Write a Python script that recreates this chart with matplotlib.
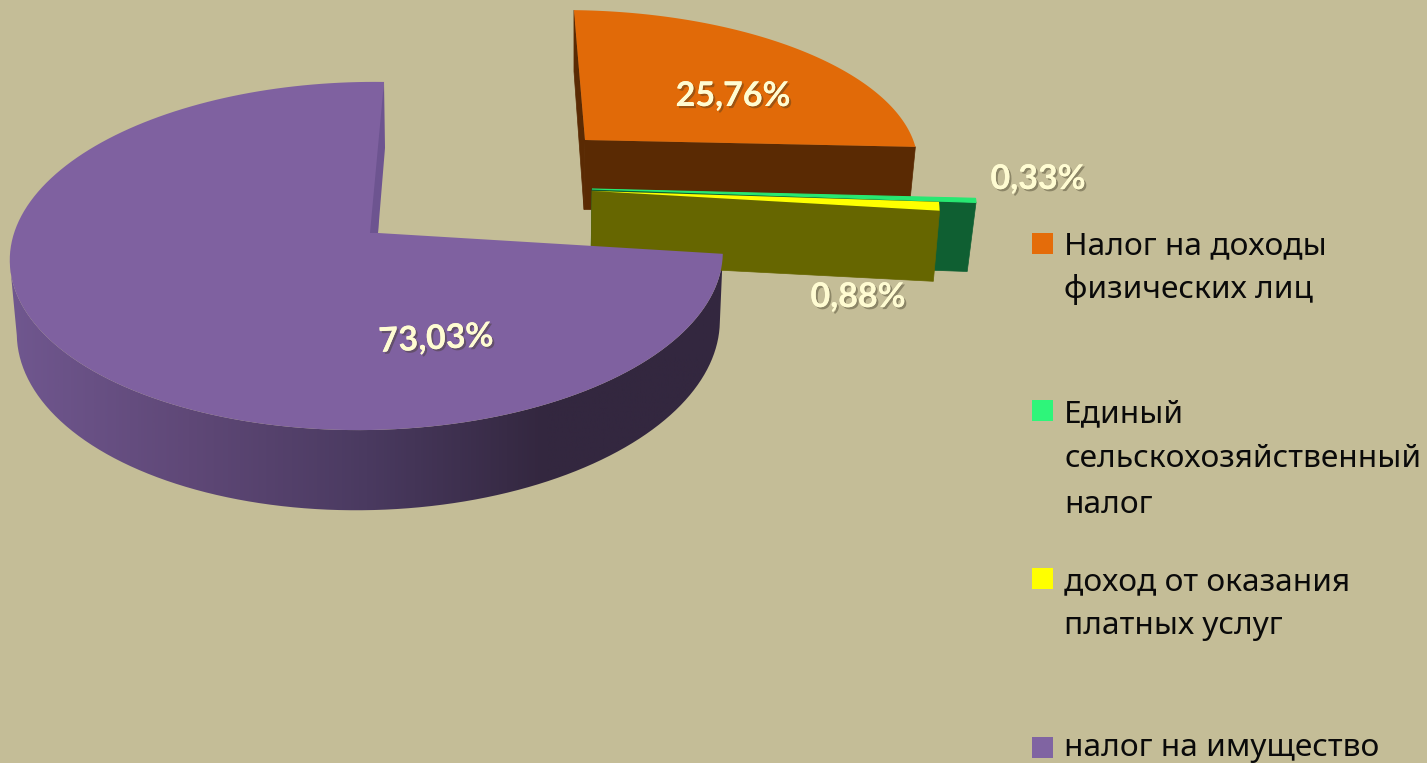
import numpy as np
import matplotlib.pyplot as plt
import matplotlib.patheffects as pe
from matplotlib.colors import LinearSegmentedColormap
from matplotlib.patches import Polygon, Rectangle

# данные диаграммы
categories = [['Налог на доходы', 'физических лиц'],
              ['Единый', 'сельскохозяйственный', 'налог'],
              ['доход от оказания', 'платных услуг'],
              ['налог на имущество']]
values = [25.76, 0.33, 0.88, 73.03]
top_colors = ['#E16A08', '#27E872', '#FFFF00', '#7F61A0']
legend_colors = ['#E46C0A', '#2EF57A', '#FFFF00', '#8064A2']
wall_colors = ['#5A2A03', '#0F5F32', '#666600', '#33273F']
bg = '#C4BD97'

bounds = np.concatenate([[0], np.cumsum(values)]) / np.sum(values) * 2 * np.pi

K = 0.132   # перспектива по глубине
M = 0.03    # перспектива по ширине
D0 = 69.5   # высота пирога


def proj(th, cx, cy, a, b, s=0.0):
    X, Y = np.sin(th), np.cos(th)
    w = 1 + K * Y + M * X
    return cx + (b * X + s * Y) / w, cy - a * Y / w, w


def down(x, y, w, cx, sx):
    return x - (x - cx) * sx, y + D0 / w


def sector(i, cx, cy, a, b, s=0.0):
    th = np.linspace(bounds[i], bounds[i + 1], 160)
    x, y, w = proj(th, cx, cy, a, b, s)
    return th, x, y, w


fig = plt.figure(figsize=(14.27, 7.63), dpi=100, facecolor=bg)
ax = fig.add_axes([0, 0, 1, 1])

# оранжевый сектор
cx, cy, a, b, s, sx = 585, 140, 147, 338, -12.5, 0.02
th, x, y, w = sector(0, cx, cy, a, b, s)
xb, yb = down(x, y, w, 575, sx)
ax.add_patch(Polygon([(x[0], y[0]), (cx, cy), (cx - 1, cy + D0), (xb[0], yb[0])], fc=wall_colors[0], ec=wall_colors[0], lw=0.5))
ax.add_patch(Polygon([(cx, cy), (x[-1], y[-1]), (xb[-1], yb[-1]), (cx - 1, cy + D0)], fc=wall_colors[0], ec=wall_colors[0], lw=0.5))
ax.add_patch(Polygon(np.r_[[[cx, cy]], np.c_[x, y]], fc=top_colors[0], ec='none'))

# зеленый сектор
cx, cy, a, b, sx = 592, 189, 200, 393, 0.023
th, x, y, w = sector(1, cx, cy, a, b)
xb, yb = down(x, y, w, cx, sx)
ax.add_patch(Polygon([(cx, cy), (x[-1], y[-1]), (xb[-1], yb[-1] + 1), (cx - 1, cy + D0)], fc=wall_colors[1], ec=wall_colors[1], lw=0.5))
ax.add_patch(Polygon(np.r_[[[cx, cy]], np.c_[x, y]], fc=top_colors[1], ec=top_colors[1], lw=0.8))

# желтый сектор
cx, cy, a, b, sx = 592, 191, 162, 355, 0.018
th, x, y, w = sector(2, cx, cy, a, b)
xb, yb = down(x, y, w, cx, sx)
ax.add_patch(Polygon([(cx, cy), (x[-1], y[-1]), (xb[-1], yb[-1] + 2), (cx - 1, cy + D0 + 3)], fc=wall_colors[2], ec=wall_colors[2], lw=0.5))
ax.add_patch(Polygon(np.r_[[[cx, cy]], np.c_[x, y]], fc=top_colors[2], ec='none'))

# фиолетовый сектор: стенка с градиентом
cx, cy, a, b, s, sx = 378, 233, 171, 353, 6.8, 0.014
th, x, y, w = sector(3, cx, cy, a, b, s)
xb, yb = down(x, y, w, 510, sx)
n = np.argmin(x) + 1   # стенка до самой левой точки
wall = Polygon(np.r_[np.c_[x[:n], y[:n]], np.c_[xb[:n], yb[:n]][::-1]], fc='none', ec='none')
ax.add_patch(wall)
cmap = LinearSegmentedColormap.from_list('wall', ['#70578F', '#5F4877', '#4A3A60', '#33273F', '#33273F'])
grad = np.linspace(0, 1, 512).reshape(1, -1)
im = ax.imshow(grad, cmap=cmap, extent=(10, 725, 520, 200), aspect='auto')
im.set_clip_path(wall)
ax.add_patch(Polygon(np.r_[[[cx, cy]], np.c_[x, y]], fc=top_colors[3], ec='none'))
# задняя грань
back_x, back_y = proj(bounds[4], cx, cy, a, b, s)[:2]
ax.add_patch(Polygon([(back_x, back_y), (back_x + 1, back_y + 66), (cx, cy), (cx - 8, cy)], fc='#6D5490', ec='none'))
ax.add_patch(Polygon([(cx - 9, cy), (cx + 1, cy), (cx + 1, cy + 3), (cx - 9, cy + 3)], fc=top_colors[3], ec='none'))

# подписи значений
shadow = [pe.withSimplePatchShadow(offset=(1.5, -1.5), shadow_rgbFace='#3a3520', alpha=0.4, rho=1.0), pe.Normal()]
label_text = ['25,76%', '0,33%', '0,88%', '73,03%']
label_x = [733, 1038, 858, 436]
label_y = [96, 179, 297, 339]
label_rot = [0, 0, 0, 3]
for i in range(4):
    ax.text(label_x[i], label_y[i], label_text[i], color='#FFFCD2', fontsize=24.5, fontweight='bold',
            family='Lato', ha='center', va='center', rotation=label_rot[i], path_effects=shadow)

# легенда
marker_y = [233, 400, 568, 737]
baselines = [[254, 298], [422, 467, 513], [590, 634], [756]]
for i in range(4):
    ax.add_patch(Rectangle((1032, marker_y[i]), 21, 21, fc=legend_colors[i], ec='none'))
    for line, yy in zip(categories[i], baselines[i]):
        ax.text(1064, yy, line, color='#0A0A0A', fontsize=22.8, family='Noto Sans', ha='left', va='baseline')

ax.set_xlim(0, 1427)
ax.set_ylim(763, 0)
ax.axis('off')
fig.savefig('out.png', dpi=100, facecolor=bg)
